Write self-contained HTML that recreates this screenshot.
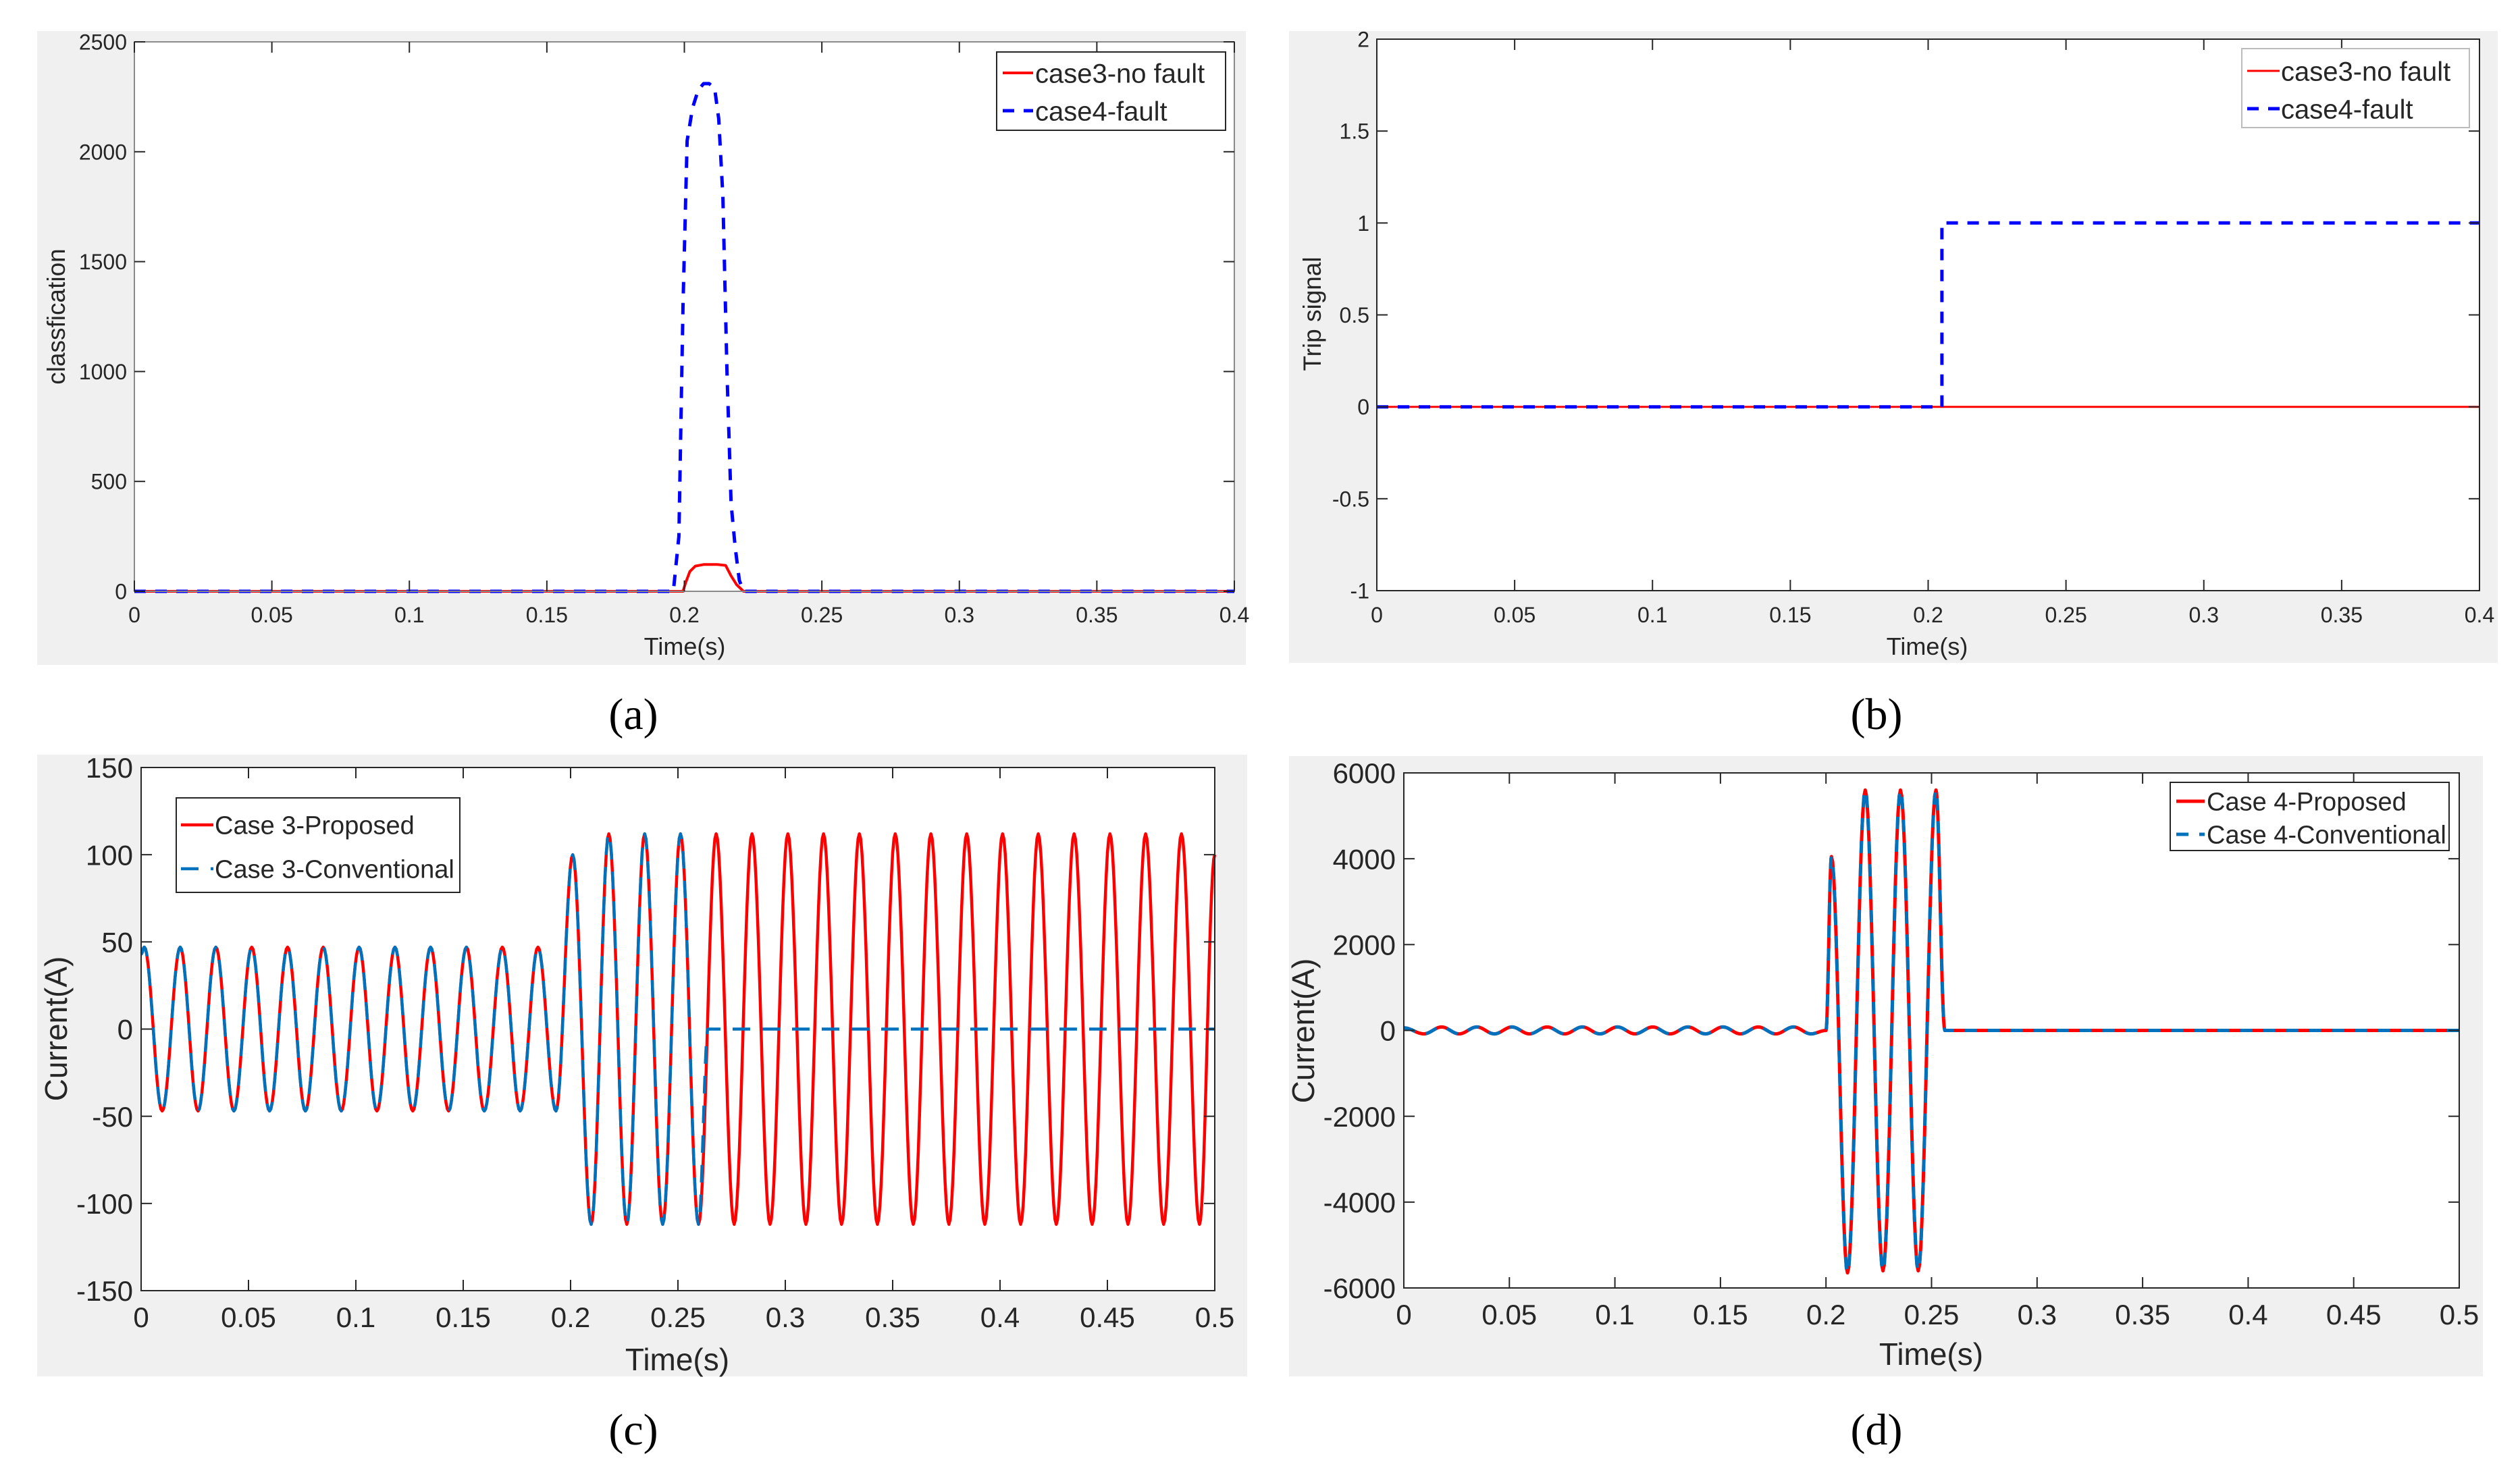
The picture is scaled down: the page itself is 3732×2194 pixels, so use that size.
<!DOCTYPE html>
<html><head><meta charset="utf-8"><style>
html,body{margin:0;padding:0;background:#fff;}
svg{display:block;}
text{font-family:"Liberation Sans",sans-serif;fill:#262626;}
.cap{font-family:"Liberation Serif",serif;fill:#000;}
</style></head><body>
<svg id="fig" width="3732" height="2194" viewBox="0 0 3732 2194" xmlns="http://www.w3.org/2000/svg"></svg>
<script>
// ---------- Panel (a) data ----------
const aXTicks=[0,0.05,0.1,0.15,0.2,0.25,0.3,0.35,0.4];
const aXLabels=["0","0.05","0.1","0.15","0.2","0.25","0.3","0.35","0.4"];
const aYTicks=[0,500,1000,1500,2000,2500];
const aYLabels=["0","500","1000","1500","2000","2500"];
const aFaultT=[0,0.196,0.198,0.1995,0.201,0.203,0.205,0.207,0.209,0.211,0.2125,0.214,0.2155,0.217,0.2185,0.220,0.2215,0.4];
const aFaultV=[0,0,250,1300,2050,2200,2280,2310,2310,2290,2150,1800,1000,400,200,50,0,0];
const aNoFaultT=[0,0.1995,0.2005,0.202,0.204,0.207,0.212,0.215,0.217,0.219,0.2215,0.4];
const aNoFaultV=[0,0,40,90,115,122,122,118,70,30,0,0];
// ---------- Panel (b) data ----------
const bXTicks=[0,0.05,0.1,0.15,0.2,0.25,0.3,0.35,0.4];
const bXLabels=["0","0.05","0.1","0.15","0.2","0.25","0.3","0.35","0.4"];
const bYTicks=[-1,-0.5,0,0.5,1,1.5,2];
const bYLabels=["-1","-0.5","0","0.5","1","1.5","2"];
const bFaultT=[0,0.205,0.205,0.4];
const bFaultV=[0,0,1,1];
const bNoFaultT=[0,0.4];
const bNoFaultV=[0,0];
// ---------- Panel (c) data (extrema of waveform) ----------
const cXTicks=[0,0.05,0.1,0.15,0.2,0.25,0.3,0.35,0.4,0.45,0.5];
const cXLabels=["0","0.05","0.1","0.15","0.2","0.25","0.3","0.35","0.4","0.45","0.5"];
const cYTicks=[-150,-100,-50,0,50,100,150];
const cYLabels=["-150","-100","-50","0","50","100","150"];
const cPropT=[0,0.0015,0.0098,0.0182,0.0265,0.0348,0.0432,0.0515,0.0598,0.0682,0.0765,0.0848,0.0932,0.1015,0.1098,0.1182,0.1265,0.1348,0.1432,0.1515,0.1598,0.1682,0.1765,0.1848,0.1932,0.201,0.2096,0.2178,0.2262,0.2345,0.2429,0.2512,0.2596,0.2678,0.2762,0.2845,0.2929,0.3012,0.3096,0.3178,0.3262,0.3345,0.3429,0.3512,0.3596,0.3678,0.3762,0.3845,0.3929,0.4012,0.4096,0.4178,0.4262,0.4345,0.4429,0.4512,0.4596,0.4678,0.4762,0.4845,0.4929,0.5];
const cPropV=[43,47,-47,47,-47,47,-47,47,-47,47,-47,47,-47,47,-47,47,-47,47,-47,47,-47,47,-47,47,-47,100,-112,112,-112,112,-112,112,-112,112,-112,112,-112,112,-112,112,-112,112,-112,112,-112,112,-112,112,-112,112,-112,112,-112,112,-112,112,-112,112,-112,112,-112,100];
const cConvT=[0,0.0015,0.0098,0.0182,0.0265,0.0348,0.0432,0.0515,0.0598,0.0682,0.0765,0.0848,0.0932,0.1015,0.1098,0.1182,0.1265,0.1348,0.1432,0.1515,0.1598,0.1682,0.1765,0.1848,0.1932,0.201,0.2096,0.2178,0.2262,0.2345,0.2429,0.2512,0.2596,0.2640,0.5];
const cConvV=[43,47,-47,47,-47,47,-47,47,-47,47,-47,47,-47,47,-47,47,-47,47,-47,47,-47,47,-47,47,-47,100,-112,112,-112,112,-112,112,-112,0,0];
// ---------- Panel (d) data ----------
const dXTicks=[0,0.05,0.1,0.15,0.2,0.25,0.3,0.35,0.4,0.45,0.5];
const dXLabels=["0","0.05","0.1","0.15","0.2","0.25","0.3","0.35","0.4","0.45","0.5"];
const dYTicks=[-6000,-4000,-2000,0,2000,4000,6000];
const dYLabels=["-6000","-4000","-2000","0","2000","4000","6000"];
const dPropT=[0,0.0095,0.0179,0.0262,0.0346,0.0429,0.0512,0.0595,0.0679,0.0762,0.0846,0.0929,0.1012,0.1095,0.1179,0.1262,0.1346,0.1429,0.1512,0.1595,0.1679,0.1762,0.1846,0.1929,0.2,0.2026,0.2102,0.2186,0.227,0.2353,0.2437,0.2521,0.2563,0.5];
const dPropV=[60,-80,80,-80,80,-80,80,-80,80,-80,80,-80,80,-80,80,-80,80,-80,80,-80,80,-80,80,-80,0,4050,-5650,5600,-5600,5600,-5600,5600,0,0];
const dConvT=dPropT.slice();
const dConvV=dPropV.slice();

const NS="http://www.w3.org/2000/svg";
const svg=document.getElementById('fig');
function mk(tag,attrs,parent){const e=document.createElementNS(NS,tag);for(const k in attrs)e.setAttribute(k,attrs[k]);(parent||svg).appendChild(e);return e;}

function linPath(ts,vs,sx,sy){let d='';for(let i=0;i<ts.length;i++){d+=(i?'L':'M')+sx(ts[i]).toFixed(1)+' '+sy(vs[i]).toFixed(1);}return d;}
function cosPath(ts,vs,sx,sy){let d='M'+sx(ts[0]).toFixed(1)+' '+sy(vs[0]).toFixed(1);
  for(let i=0;i<ts.length-1;i++){const a=vs[i],b=vs[i+1],t0=ts[i],t1=ts[i+1];const n=14;
    for(let k=1;k<=n;k++){const f=k/n;const v=a+(b-a)*(1-Math.cos(Math.PI*f))/2;d+='L'+sx(t0+(t1-t0)*f).toFixed(1)+' '+sy(v).toFixed(1);}}
  return d;}

function panel(p){
  const g=mk('g',{});
  
  
  const bg=mk('rect',{x:p.gx0,y:p.gy0,width:p.gx1-p.gx0,height:p.gy1-p.gy0,fill:'#f0f0f0'},g);
  
  
  const pa=mk('rect',{x:p.x0,y:p.y0,width:p.x1-p.x0,height:p.y1-p.y0,fill:'#fff'},g);
  
  
  const sx=t=>p.x0+(t-p.xmin)/(p.xmax-p.xmin)*(p.x1-p.x0);
  const sy=v=>p.y1-(v-p.ymin)/(p.ymax-p.ymin)*(p.y1-p.y0);
  p.series.forEach(s=>{
    const d=s.smooth?cosPath(s.t,s.v,sx,sy):linPath(s.t,s.v,sx,sy);
    const el=mk('path',{d:d,fill:'none',stroke:s.color,'stroke-width':s.w,'stroke-dasharray':s.dash||'none','stroke-linejoin':'round'},g);
    
    
  });
  const box=mk('rect',{x:p.x0,y:p.y0,width:p.x1-p.x0,height:p.y1-p.y0,fill:'none',stroke:p.boxc||'#262626','stroke-width':2},g);
  
  
  const tl=16;
  p.xt.forEach((t,i)=>{
    const x=sx(t);
    mk('line',{x1:x,y1:p.y1,x2:x,y2:p.y1-tl,stroke:'#262626','stroke-width':2},g);
    mk('line',{x1:x,y1:p.y0,x2:x,y2:p.y0+tl,stroke:'#262626','stroke-width':2},g);
    const tx=mk('text',{x:x,y:p.xly,'text-anchor':'middle','font-size':p.fs},g);
    tx.textContent=p.xl[i];
    
    
  });
  p.yt.forEach((v,i)=>{
    const y=sy(v);
    mk('line',{x1:p.x0,y1:y,x2:p.x0+tl,y2:y,stroke:'#262626','stroke-width':2},g);
    mk('line',{x1:p.x1,y1:y,x2:p.x1-tl,y2:y,stroke:'#262626','stroke-width':2},g);
    const tx=mk('text',{x:p.ylx,y:y+p.fs*0.36,'text-anchor':'end','font-size':p.fs},g);
    tx.textContent=p.yl[i];
    
    
  });
  const xt=mk('text',{x:p.xtx,y:p.xty,'text-anchor':'middle','font-size':p.tfs},g);
  xt.textContent='Time(s)';
  
  
  const yt=mk('text',{x:0,y:0,'text-anchor':'middle','font-size':p.yfs,transform:'translate('+p.ytx+','+p.yty+') rotate(-90)'},g);
  yt.textContent=p.ytitle;
  
  
  const L=p.leg;
  const lb=mk('rect',{x:L.x0,y:L.y0,width:L.x1-L.x0,height:L.y1-L.y0,fill:'#fff',stroke:L.stroke,'stroke-width':2},g);
  
  
  p.series.forEach((s,i)=>{
    const y=L.rows[i];
    const ln=mk('line',{x1:L.sx0,y1:y,x2:L.sx1,y2:y,stroke:s.color,'stroke-width':s.w,'stroke-dasharray':s.dash||'none'},g);
    
    
    const tx=mk('text',{x:L.tx,y:y+L.fs*0.36,'font-size':L.fs,fill:'#000'},g);
    tx.textContent=s.label;
    
    
  });
  const cp=mk('text',{x:p.capx,y:p.capy,'text-anchor':'middle','font-size':66,class:'cap'},g);
  cp.textContent=p.cap;
  
  
}

panel({name:'panel-a',gx0:55,gy0:46,gx1:1845,gy1:985,x0:199,x1:1828,y0:62,y1:876,xmin:0,xmax:0.4,ymin:0,ymax:2500,boxc:'#8a8a8a',
  xt:aXTicks,xl:aXLabels,yt:aYTicks,yl:aYLabels,fs:32,xly:922,ylx:188,tfs:36,xtx:1014,xty:970,ytitle:'classfication',yfs:37,ytx:96,yty:469,
  series:[{name:'case3-no-fault-line',label:'case3-no fault',t:aNoFaultT,v:aNoFaultV,color:'#ff0000',w:4},
          {name:'case4-fault-line',label:'case4-fault',t:aFaultT,v:aFaultV,color:'#0000ff',w:5,dash:'17 14'}],
  leg:{x0:1476,y0:77,x1:1815,y1:193,stroke:'#262626',rows:[108,164],sx0:1485,sx1:1530,tx:1533,fs:40},cap:'(a)',capx:938,capy:1080});
panel({name:'panel-b',gx0:1909,gy0:46,gx1:3699,gy1:982,x0:2039,x1:3672,y0:58,y1:875,xmin:0,xmax:0.4,ymin:-1,ymax:2,
  xt:bXTicks,xl:bXLabels,yt:bYTicks,yl:bYLabels,fs:32,xly:922,ylx:2028,tfs:36,xtx:2854,xty:970,ytitle:'Trip signal',yfs:37,ytx:1956,yty:465,
  series:[{name:'case3-no-fault-line',label:'case3-no fault',t:bNoFaultT,v:bNoFaultV,color:'#ff0000',w:3},
          {name:'case4-fault-line',label:'case4-fault',t:bFaultT,v:bFaultV,color:'#0000ff',w:5,dash:'17 14'}],
  leg:{x0:3320,y0:72,x1:3657,y1:189,stroke:'#bbbbbb',rows:[105,161],sx0:3328,sx1:3376,tx:3378,fs:40},cap:'(b)',capx:2779,capy:1080});
panel({name:'panel-c',gx0:55,gy0:1118,gx1:1847,gy1:2039,x0:209,x1:1799,y0:1137,y1:1912,xmin:0,xmax:0.5,ymin:-150,ymax:150,
  xt:cXTicks,xl:cXLabels,yt:cYTicks,yl:cYLabels,fs:42,xly:1966,ylx:197,tfs:46,xtx:1003,xty:2030,ytitle:'Current(A)',yfs:46,ytx:99,yty:1524,
  series:[{name:'case3-proposed-line',label:'Case 3-Proposed',t:cPropT,v:cPropV,color:'#ff0000',w:4.5,smooth:true},
          {name:'case3-conventional-line',label:'Case 3-Conventional',t:cConvT,v:cConvV,color:'#0072bd',w:4.5,dash:'26 18',smooth:true}],
  leg:{x0:261,y0:1182,x1:681,y1:1322,stroke:'#262626',rows:[1222,1287],sx0:268,sx1:316,tx:318,fs:38},cap:'(c)',capx:938,capy:2140});
panel({name:'panel-d',gx0:1909,gy0:1120,gx1:3677,gy1:2039,x0:2079,x1:3642,y0:1145,y1:1908,xmin:0,xmax:0.5,ymin:-6000,ymax:6000,
  xt:dXTicks,xl:dXLabels,yt:dYTicks,yl:dYLabels,fs:42,xly:1962,ylx:2067,tfs:46,xtx:2860,xty:2022,ytitle:'Current(A)',yfs:46,ytx:1946,yty:1527,
  series:[{name:'case4-proposed-line',label:'Case 4-Proposed',t:dPropT,v:dPropV,color:'#ff0000',w:5,smooth:true},
          {name:'case4-conventional-line',label:'Case 4-Conventional',t:dConvT,v:dConvV,color:'#0072bd',w:5,dash:'18 16',smooth:true}],
  leg:{x0:3214,y0:1159,x1:3627,y1:1260,stroke:'#262626',rows:[1187,1236],sx0:3223,sx1:3265,tx:3268,fs:38},cap:'(d)',capx:2779,capy:2140});
</script>
</body></html>
